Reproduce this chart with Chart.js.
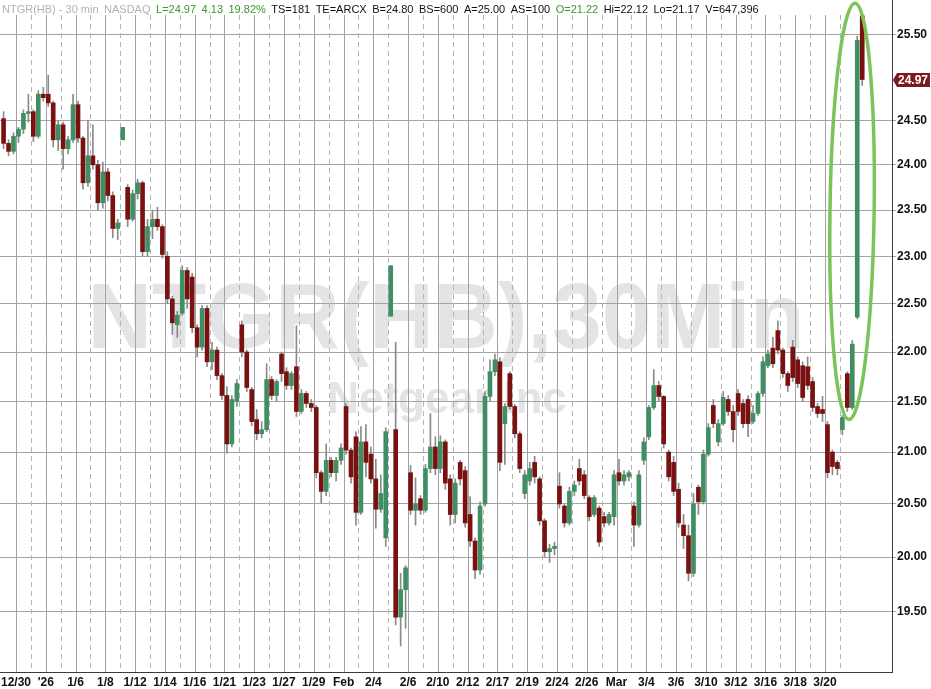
<!DOCTYPE html>
<html>
<head>
<meta charset="utf-8">
<title>NTGR(HB) - 30 min</title>
<script src="https://cdn.jsdelivr.net/npm/chart.js@4.4.1/dist/chart.umd.min.js"></script>
<style>
  html, body { margin: 0; padding: 0; background: #fff; }
  #wrap { width: 931px; height: 689px; }
</style>
</head>
<body>
<div id="wrap"><canvas id="chart"></canvas></div>
<script>
// trading days on the chart (the source chart shows no bars for 2/20)
const days = ['12/29','12/30','12/31','1/2','1/5','1/6','1/7','1/8','1/9','1/12','1/13','1/14','1/15','1/16',
  '1/20','1/21','1/22','1/23','1/26','1/27','1/28','1/29','1/30','2/2','2/3','2/4','2/5','2/6','2/9','2/10',
  '2/11','2/12','2/13','2/17','2/18','2/19','2/23','2/24','2/25','2/26','2/27','3/2','3/3','3/4','3/5','3/6',
  '3/9','3/10','3/11','3/12','3/13','3/16','3/17','3/18','3/19','3/20','3/23'];

// axis label printed at the start of a day ('' = dashed day line only)
const dayTicks = ['', '12/30', '', "'26", '', '1/6', '', '1/8', '', '1/12', '', '1/14', '', '1/16', '', '1/21',
  '', '1/23', '', '1/27', '', '1/29', '', 'Feb', '', '2/4', '', '2/6', '', '2/10', '', '2/12', '', '2/17', '',
  '2/19', '', '2/24', '', '2/26', '', 'Mar', '', '3/4', '', '3/6', '', '3/10', '', '3/12', '', '3/16', '',
  '3/18', '', '3/20', ''];

// bars drawn for each day
const barsPerDay = [3,3,3,3,3,3,3,3,3,3,3,3,3,3,3,3,3,3,3,3,3,3,3,3,3,3,4,3,3,3,3,3,3,3,3,3,3,3,3,3,3,3,3,3,
  3,3,3,3,3,3,3,3,3,3,3,3,5];

const open = [
  24.52,24.24,24.15, 24.32,24.40,24.58, 24.60,24.32,24.80, 24.80,24.70,24.28, 24.45,24.18,24.28,
  24.68,24.30,23.80, 24.10,24.00,23.58, 23.92,23.66,23.30, 24.28,23.75,23.40, 23.68,23.80,23.05,
  23.32,23.40,23.32, 23.00,22.55,22.28, 22.40,22.85,22.78, 22.25,22.05,22.45, 21.90,22.02,21.76,
  21.56,21.08,21.50, 22.28,22.00,21.62, 21.32,21.18,21.22, 21.72,21.56,21.98, 21.80,21.66,21.85,
  21.40,21.58,21.48, 21.44,20.80,20.62, 20.92,20.80,20.92, 21.45,21.02,21.15, 20.42,21.10,20.98,
  20.74,20.45,20.18, 22.37,21.22,19.45,19.70, 20.80,20.44,20.55, 20.44,20.84,21.05, 20.84,21.10,20.74,
  20.40,20.90,20.82, 20.40,20.15,19.88, 20.50,21.55,21.80, 21.90,21.28,21.78, 21.45,21.18,20.60,
  20.72,20.90,20.74, 20.34,20.05,20.08, 20.67,20.48,20.32, 20.62,20.84,20.78, 20.56,20.40,20.46,
  20.38,20.32,20.38, 20.80,20.72,20.76, 20.48,20.30,20.92, 21.15,21.44,21.66, 21.55,21.00,20.90,
  20.64,20.30,20.20, 19.85,20.66,20.52, 20.98,21.46,21.10, 21.28,21.52,21.40, 21.58,21.48,21.52,
  21.30,21.38,21.58, 21.86,22.04,22.22, 22.02,21.78,22.05, 21.92,21.86,21.85, 21.70,21.45,21.42,
  21.27,21.00,20.90, 21.22,21.78,21.44,22.36,25.72
];
const high = [
  24.60,24.28,24.36, 24.42,24.62,24.80, 24.62,24.84,24.88, 25.02,24.72,24.50, 24.48,24.32,24.80,
  24.72,24.32,24.50, 24.45,24.05,24.03, 23.96,23.70,23.40, 24.42,23.78,23.72, 23.84,23.82,23.40,
  23.50,23.53,23.34, 23.05,22.58,22.42, 22.90,22.88,22.82, 22.28,22.48,22.48, 22.10,22.05,21.78,
  21.65,21.56,21.72, 22.32,22.02,21.64, 21.42,21.30,21.88, 21.75,21.72,22.00, 21.84,21.80,22.27,
  21.62,21.60,21.52, 21.46,20.82,21.08, 20.95,20.95,21.08, 21.48,21.04,21.20, 21.25,21.27,21.05,
  20.93,20.78,21.24, 22.90,22.10,19.85,19.92, 20.87,20.75,20.58, 20.88,21.38,21.15, 21.16,21.12,20.78,
  20.74,20.92,20.86, 20.57,20.18,20.52, 21.60,21.92,21.98, 21.94,21.48,21.80, 21.47,21.20,20.82,
  20.90,20.96,20.76, 20.36,20.12,20.14, 20.80,20.50,20.66, 20.72,20.93,20.82, 20.58,20.58,20.48,
  20.42,20.42,20.82, 20.93,20.82,20.82, 20.52,20.82,21.14, 21.46,21.82,21.70, 21.56,21.02,20.96,
  20.70,20.40,20.30, 20.60,20.68,21.02, 21.28,21.52,21.32, 21.60,21.56,21.46, 21.62,21.52,21.56,
  21.46,21.60,21.95, 22.02,22.15,22.32, 22.04,21.80,22.12, 21.95,21.90,21.95, 21.74,21.48,21.55,
  21.30,21.02,20.92, 21.36,21.80,22.12,25.48,25.76
];
const low = [
  24.18,24.10,24.12, 24.25,24.35,24.48, 24.26,24.30,24.72, 24.66,24.20,24.16, 23.95,24.12,24.25,
  24.25,23.73,23.76, 23.95,23.50,23.52, 23.60,23.20,23.18, 24.28,23.32,23.38, 23.62,23.00,23.00,
  23.19,23.28,22.98, 22.50,22.18,22.15, 22.38,22.45,22.20, 21.95,22.02,21.85, 21.82,21.72,21.52,
  20.99,21.05,21.45, 21.95,21.60,21.26, 21.12,21.14,21.20, 21.52,21.50,21.70, 21.62,21.62,21.35,
  21.38,21.44,21.40, 20.75,20.51,20.58, 20.76,20.72,20.88, 20.98,20.70,20.30, 20.40,20.76,20.70,
  20.27,20.42,20.10, 22.37,19.38,19.19,19.35, 20.40,20.30,20.40, 20.42,20.80,20.78, 20.80,20.64,20.30,
  20.32,20.68,20.28, 20.10,19.80,19.84, 20.48,21.50,21.76, 20.82,20.88,21.42, 21.14,20.80,20.55,
  20.68,20.70,20.30, 20.00,19.95,20.02, 20.46,20.28,20.30, 20.58,20.68,20.55, 20.34,20.38,20.10,
  20.28,20.30,20.30, 20.68,20.68,20.72, 20.10,20.28,20.88, 21.12,21.42,21.50, 21.04,20.72,20.58,
  20.28,20.08,19.78, 19.82,20.40,20.50, 20.96,21.24,21.06, 21.26,21.36,21.10, 21.36,21.24,21.15,
  21.28,21.36,21.55, 21.84,21.84,21.98, 21.74,21.60,21.70, 21.64,21.50,21.62, 21.40,21.34,21.30,
  20.75,20.78,20.78, 21.17,21.40,21.42,22.34,24.90
];
const close = [
  24.24,24.15,24.32, 24.40,24.58,24.60, 24.32,24.80,24.76, 24.70,24.28,24.45, 24.18,24.28,24.68,
  24.30,23.80,24.10, 24.00,23.58,23.92, 23.66,23.30,23.36, 24.42,23.40,23.68, 23.80,23.05,23.32,
  23.40,23.32,23.02, 22.55,22.30,22.38, 22.85,22.55,22.25, 22.05,22.45,21.90, 22.02,21.76,21.56,
  21.08,21.52,21.68, 22.00,21.64,21.30, 21.18,21.22,21.72, 21.56,21.70,21.78, 21.66,21.78,21.40,
  21.58,21.48,21.44, 20.80,20.62,20.92, 20.80,20.92,21.04, 21.02,20.76,20.42, 21.10,20.90,20.74,
  20.45,20.60,21.20, 22.90,19.45,19.70,19.90, 20.44,20.50,20.44, 20.84,21.05,20.84, 21.10,20.70,20.40,
  20.70,20.74,20.32, 20.15,19.88,20.48, 21.55,21.80,21.92, 20.90,21.45,21.45, 21.18,20.84,20.78,
  20.84,20.76,20.34, 20.05,20.08,20.10, 20.50,20.32,20.62, 20.68,20.72,20.58, 20.38,20.56,20.14,
  20.32,20.40,20.78, 20.72,20.78,20.80, 20.30,20.78,21.10, 21.44,21.66,21.55, 21.08,20.76,20.62,
  20.32,20.20,19.85, 20.50,20.52,20.98, 21.24,21.28,21.28, 21.54,21.40,21.22, 21.40,21.28,21.28,
  21.38,21.58,21.90, 21.98,21.88,22.02, 21.78,21.66,21.74, 21.68,21.54,21.66, 21.44,21.38,21.38,
  20.80,20.86,20.84, 21.34,21.44,22.08,25.43,24.97
];

const yTicks = [19.5, 20, 20.5, 21, 21.5, 22, 22.5, 23, 23.5, 24, 24.5, 25.5];

// quote line printed across the top
const headerParts = [
  ['NTGR(HB) - 30 min', 'muted'], ['NASDAQ', 'muted'], ['L=24.97', 'up'], ['4.13', 'up'], ['19.82%', 'up'],
  ['TS=181', 'text'], ['TE=ARCX', 'text'], ['B=24.80', 'text'], ['BS=600', 'text'], ['A=25.00', 'text'],
  ['AS=100', 'text'], ['O=21.22', 'up'], ['Hi=22.12', 'text'], ['Lo=21.17', 'text'], ['V=647,396', 'text']
];

const UP = '#3f8f63';
const DOWN = '#7a1111';
const WICK = '#8a8a8a';
const FONT = '"Liberation Sans", Arial, Helvetica, sans-serif';

// slot positions: each bar takes one slot, days follow one another
const dayStart = [];
const barX = [];
let slot = 0;
barsPerDay.forEach(n => {
  dayStart.push(slot);
  for (let k = 0; k < n; k++) barX.push(slot + k + 0.5);
  slot += n;
});
const nBars = Math.min(barX.length, open.length, high.length, low.length, close.length);
const isUp = i => close[i] >= open[i];

const tickSlots = [];
const tickText = [];
dayTicks.forEach((t, i) => { if (t) { tickSlots.push(dayStart[i]); tickText.push(t); } });

const wickData = [];
const bodyData = [];
for (let i = 0; i < nBars; i++) {
  wickData.push({ x: barX[i], y: [Math.min(low[i], open[i], close[i]), Math.max(high[i], open[i], close[i])] });
  bodyData.push({ x: barX[i], y: [open[i], close[i]] });
}

const decor = {
  id: 'decor',
  beforeDraw(chart) {
    const { ctx, width, height } = chart;
    ctx.save();
    ctx.fillStyle = '#ffffff';
    ctx.fillRect(0, 0, width, height);
    // watermark
    ctx.fillStyle = '#e4e4e7';
    ctx.textAlign = 'center';
    ctx.textBaseline = 'alphabetic';
    ctx.font = 'bold 92px ' + FONT;
    const t1 = 'NTGR(HB),30Min';
    const w1 = ctx.measureText(t1).width;
    ctx.translate(446, 348);
    ctx.scale(717 / w1, 1);
    ctx.fillText(t1, 0, 0);
    ctx.setTransform(1, 0, 0, 1, 0, 0);
    ctx.font = 'bold 44px ' + FONT;
    ctx.fillText('Netgear Inc', 447, 413);
    ctx.restore();
  },
  beforeDatasetsDraw(chart) {
    const { ctx, chartArea } = chart;
    const xs = chart.scales.x;
    ctx.save();
    ctx.lineWidth = 1;
    for (let i = 1; i < dayStart.length; i++) {
      const px = Math.round(xs.getPixelForValue(dayStart[i])) + 0.5;
      if (px < chartArea.left + 2 || px > chartArea.right - 1) continue;
      if (dayTicks[i]) {
        ctx.setLineDash([]);
        ctx.strokeStyle = '#a2a2a2';
      } else {
        ctx.setLineDash([5, 4]);
        ctx.strokeStyle = '#b4b4b4';
      }
      ctx.beginPath();
      ctx.moveTo(px, 15);
      ctx.lineTo(px, chartArea.bottom);
      ctx.stroke();
    }
    ctx.restore();
  },
  afterDraw(chart) {
    const { ctx, chartArea } = chart;
    const xs = chart.scales.x;
    const ys = chart.scales.y;
    ctx.save();

    // highlight ring round the last session
    const cx = xs.getPixelForValue(171.45);
    const top = ys.getPixelForValue(25.87);
    const bottom = ys.getPixelForValue(21.32);
    const rx = xs.getPixelForValue(175.9) - cx;
    ctx.strokeStyle = '#7cc35a';
    ctx.lineWidth = 3.5;
    ctx.beginPath();
    ctx.ellipse(cx, (top + bottom) / 2, rx, (bottom - top) / 2, 0.0144, 0, Math.PI * 2);
    ctx.stroke();

    // last price tag
    const last = close[nBars - 1];
    const py = Math.round(ys.getPixelForValue(last));
    const x0 = chartArea.right + 1;
    ctx.fillStyle = '#7b1b1b';
    ctx.beginPath();
    ctx.moveTo(x0, py);
    ctx.lineTo(x0 + 4, py - 7);
    ctx.lineTo(chart.width - 1, py - 7);
    ctx.lineTo(chart.width - 1, py + 7);
    ctx.lineTo(x0 + 4, py + 7);
    ctx.closePath();
    ctx.fill();
    ctx.fillStyle = '#ffffff';
    ctx.font = 'bold 12px ' + FONT;
    ctx.textBaseline = 'middle';
    ctx.textAlign = 'left';
    ctx.fillText(last.toFixed(2), x0 + 5, py + 1);

    // quote header
    ctx.font = '11px ' + FONT;
    ctx.textBaseline = 'alphabetic';
    const colors = { muted: '#b2b2b2', up: '#3b962c', text: '#111111' };
    let hx = 2;
    headerParts.forEach(([txt, role]) => {
      ctx.fillStyle = colors[role];
      ctx.fillText(txt, hx, 13);
      hx += ctx.measureText(txt).width + 5.5;
    });
    ctx.restore();
  }
};

Chart.defaults.font.family = FONT;

new Chart(document.getElementById('chart'), {
  type: 'bar',
  data: {
    datasets: [
      {
        label: 'body',
        data: bodyData,
        order: 1,
        grouped: false,
        barThickness: 4,
        minBarLength: 1,
        borderWidth: 0,
        backgroundColor: c => (isUp(c.dataIndex) ? UP : DOWN)
      },
      {
        label: 'wick',
        data: wickData,
        order: 2,
        grouped: false,
        barThickness: 1,
        borderWidth: 0,
        backgroundColor: WICK
      }
    ]
  },
  options: {
    responsive: true,
    maintainAspectRatio: false,
    animation: false,
    layout: { padding: 0 },
    plugins: { legend: { display: false }, tooltip: { enabled: false } },
    scales: {
      x: {
        type: 'linear',
        min: -0.22,
        max: 179.5,
        offset: false,
        grid: { display: false, drawTicks: false },
        border: { display: true, color: '#3a3a3a', width: 1 },
        afterBuildTicks: s => { s.ticks = tickSlots.map(v => ({ value: v })); },
        afterFit: s => { s.height = 17; s.paddingLeft = 0; s.paddingRight = 0; },
        ticks: {
          autoSkip: false,
          maxRotation: 0,
          minRotation: 0,
          padding: 3,
          color: '#111',
          font: { size: 12, weight: 'bold' },
          callback: v => tickText[tickSlots.indexOf(v)] || ''
        }
      },
      y: {
        type: 'logarithmic',
        position: 'right',
        min: 18.96,
        max: 25.91,
        afterBuildTicks: s => { s.ticks = yTicks.map(v => ({ value: v })); },
        afterFit: s => { s.width = 39; s.paddingTop = 0; s.paddingBottom = 0; },
        grid: { color: '#a4a4a4', lineWidth: 1, tickLength: 4, tickColor: '#a4a4a4' },
        border: { display: true, color: '#3a3a3a', width: 1 },
        ticks: {
          padding: 1,
          color: '#111',
          font: { size: 12, weight: 'bold' },
          callback: v => Number(v).toFixed(2)
        }
      }
    }
  },
  plugins: [decor]
});
</script>
</body>
</html>
